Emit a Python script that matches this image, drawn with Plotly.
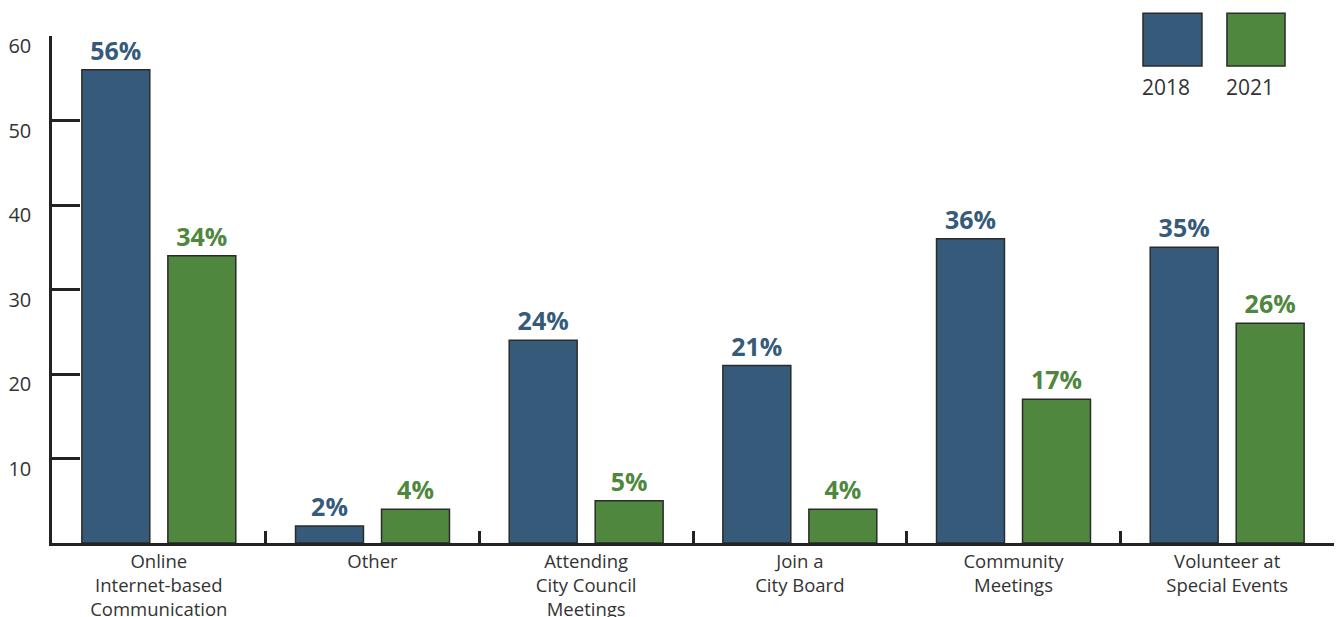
import plotly.graph_objects as go

categories = ["Online<br>Internet-based<br>Communication", "Other",
              "Attending<br>City Council<br>Meetings", "Join a<br>City Board",
              "Community<br>Meetings", "Volunteer at<br>Special Events"]
values_2018 = [56, 2, 24, 21, 36, 35]
values_2021 = [34, 4, 5, 4, 17, 26]
series_names = ["2018", "2021"]
y_ticks = [10, 20, 30, 40, 50, 60]

BLUE = "#365b7a"
GREEN = "#4e873d"
OUTLINE = "#2b2b2b"
FONT = "Open Sans"

fig = go.Figure()
for name, vals, col in [(series_names[0], values_2018, BLUE), (series_names[1], values_2021, GREEN)]:
    fig.add_trace(go.Bar(
        x=categories, y=vals, name=name,
        marker=dict(color=col, line=dict(color=OUTLINE, width=1.5)),
        text=[f"{v}%" for v in vals], textposition="outside",
        textfont=dict(family=FONT, size=25, color=col, weight="bold"),
        cliponaxis=False, showlegend=False,
    ))

fig.update_layout(
    width=1340, height=617,
    margin=dict(l=52, r=6, t=36, b=74, autoexpand=False),
    paper_bgcolor="white", plot_bgcolor="white",
    barmode="group", bargap=0.195, bargroupgap=0.21,
    font=dict(family=FONT, size=18.5, color="#333333"),
)
fig.update_xaxes(
    type="category", showgrid=False, showline=True, linecolor="#222222", linewidth=2.5,
    ticks="inside", tickson="boundaries", ticklen=12, tickwidth=2.5, tickcolor="#222222",
    tickfont=dict(family=FONT, size=18.5, color="#333333"),
    range=[-0.5, 5.5], fixedrange=True, automargin=False,
)
fig.update_yaxes(
    range=[0, 60], tickvals=y_ticks, showgrid=False, zeroline=False,
    showline=True, linecolor="#222222", linewidth=2.5,
    ticks="inside", ticklen=28, tickwidth=2.5, tickcolor="#222222",
    tickfont=dict(family=FONT, size=20, color="#333333"),
    ticklabelstandoff=14, ticklabelshift=10, automargin=False, fixedrange=True,
)

# Custom legend (boxes above labels)
legend_items = [(series_names[0], BLUE, 0.851, 0.897), (series_names[1], GREEN, 0.9165, 0.9618)]
for name, col, x0, x1 in legend_items:
    fig.add_shape(type="rect", xref="paper", yref="paper", x0=x0, x1=x1, y0=0.941, y1=1.045,
                  fillcolor=col, line=dict(color=OUTLINE, width=1.5))
    fig.add_annotation(xref="paper", yref="paper", x=x0, y=0.899, text=name, showarrow=False,
                       xanchor="left", yanchor="middle", xshift=-3,
                       font=dict(family=FONT, size=21, color="#333333"))

fig.write_html("out.html", config={"displayModeBar": False},
               post_script="document.body.style.margin='0';document.body.style.overflow='hidden';")
